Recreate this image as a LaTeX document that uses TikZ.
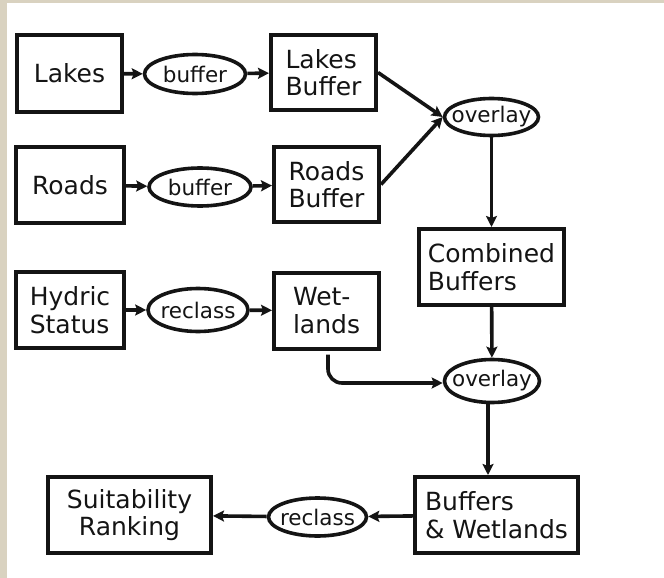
\documentclass[tikz,border=0pt]{standalone}
\usepackage{fontspec}
\setmainfont{DejaVu Sans}
\usetikzlibrary{shapes.geometric,arrows.meta}
\definecolor{frame}{HTML}{D9D2C0}
\definecolor{ink}{HTML}{141414}
\begin{document}
\begin{tikzpicture}[x=1pt,y=-1pt,
  box/.style={draw=ink, text=ink, line width=4pt, inner sep=0pt,
    font=\fontsize{25}{27.5}\selectfont, align=left, minimum height=76pt},
  op/.style={draw=ink, text=ink, ellipse, line width=3.6pt, inner sep=0pt,
    font=\fontsize{21.5}{24}\selectfont,
    execute at begin node={\hbox to 0pt\bgroup\hss},
    execute at end node={\hss\egroup}},
  flow/.style={draw=ink, line width=3.6pt,
    -{Stealth[length=11pt,width=11pt,inset=2pt]}}
]
% page with a beige edge on the top and left
\fill[frame] (0,0) rectangle (664,578);
\fill[white] (7,3) rectangle (664,578);
\useasboundingbox (0,0) rectangle (664,578);

% row 1: lakes
\node[box, minimum width=105pt] (lakes) at (69.5,73.5) {Lakes};
\node[op, minimum width=101pt, minimum height=39pt] (buf1) at (195,74) {buffer};
\node[box, minimum width=105pt, minimum height=75pt] (lbuf) at (323.5,72.5) {Lakes\\Buffer};

% row 2: roads
\node[box, minimum width=108pt] (roads) at (70,185) {Roads};
\node[op, minimum width=102pt, minimum height=38pt] (buf2) at (200,187) {buffer};
\node[box, minimum width=105pt, minimum height=75pt] (rbuf) at (326.5,184.5) {Roads\\Buffer};

% combining the two buffers
\node[op, minimum width=94pt, minimum height=37pt] (ov1) at (491.5,117) {overlay};
\node[box, minimum width=145pt] (comb) at (491.5,267) {Combined\\Buffers};

% row 3: wetlands
\node[box, minimum width=108pt] (hyd) at (70,310) {Hydric\\Status};
\node[op, minimum width=100pt, minimum height=43pt] (rc1) at (198,310) {reclass};
\node[box, minimum width=105pt] (wet) at (326.5,310.5) {Wet-\\lands};

\node[op, minimum width=95pt, minimum height=43pt] (ov2) at (492,381) {overlay};

% bottom row
\node[box, minimum width=163pt] (bw) at (496.5,515) {Buffers\\\& Wetlands};
\node[op, minimum width=98pt, minimum height=38pt] (rc2) at (317.5,517) {reclass};
\node[box, minimum width=163pt, align=center] (suit) at (129.5,515) {Suitability\\Ranking};

% connectors
\draw[flow] (lakes) -- (buf1);
\draw[flow] (buf1) -- (lbuf);
\draw[flow] (roads) -- (buf2);
\draw[flow] (buf2) -- (rbuf);
\draw[flow] (hyd) -- (rc1);
\draw[flow] (rc1) -- (wet);
\draw[flow] (lbuf.east) -- (ov1.west);
\draw[flow] (rbuf.east) -- (ov1.west);
\draw[flow] (ov1) -- (comb);
\draw[flow] (comb) -- (ov2);
\draw[flow] ([xshift=-4pt]ov2.south) -- ([xshift=-4pt]ov2.south |- bw.north);
\draw[flow, rounded corners=14pt] ([xshift=1.5pt,yshift=-4pt]wet.south) |- ([yshift=-2pt]ov2.west);
\draw[flow] (bw) -- (rc2);
\draw[flow] (rc2) -- (suit);
\end{tikzpicture}
\end{document}
